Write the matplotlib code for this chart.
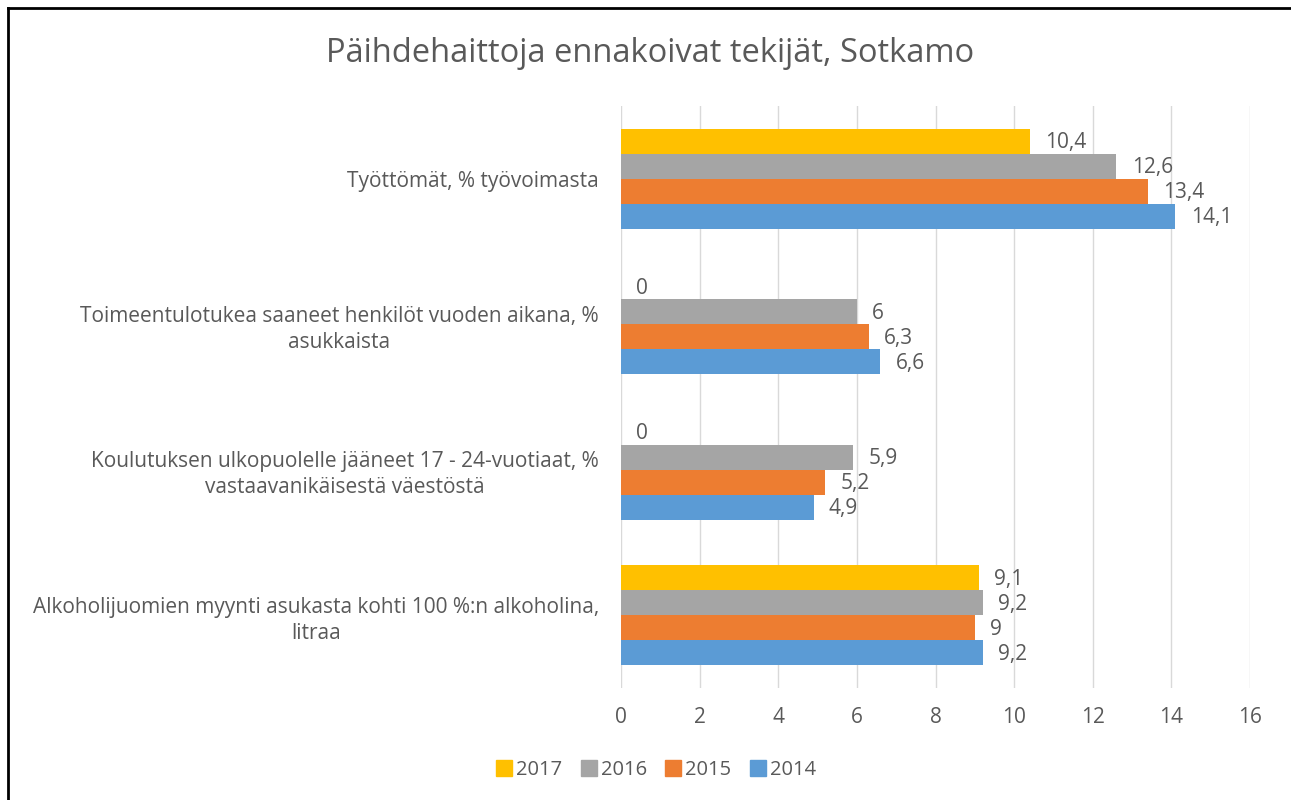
import matplotlib
matplotlib.use("Agg")
import matplotlib.pyplot as plt
from matplotlib.lines import Line2D
import numpy as np

plt.rcParams['font.family'] = ['Open Sans', 'DejaVu Sans']

categories = [
    "Työttömät, % työvoimasta",
    "Toimeentulotukea saaneet henkilöt vuoden aikana, %\nasukkaista",
    "Koulutuksen ulkopuolelle jääneet 17 - 24-vuotiaat, %\nvastaavanikäisestä väestöstä",
    "Alkoholijuomien myynti asukasta kohti 100 %:n alkoholina,\nlitraa",
]
years = ["2017", "2016", "2015", "2014"]
v2017 = [10.4, 0, 0, 9.1]
v2016 = [12.6, 6, 5.9, 9.2]
v2015 = [13.4, 6.3, 5.2, 9]
v2014 = [14.1, 6.6, 4.9, 9.2]
series = [v2017, v2016, v2015, v2014]
colors = ["#FFC000", "#A5A5A5", "#ED7D31", "#5B9BD5"]
xticks = [0, 2, 4, 6, 8, 10, 12, 14, 16]

def fmt(v):
    s = f"{v:g}"
    return s.replace(".", ",")

W, H = 1291, 800
fig = plt.figure(figsize=(W / 100, H / 100), dpi=100)
ax = fig.add_axes([621 / W, 1 - 688 / H, (1250 - 621) / W, (688 - 106) / H])

text_color = "#595959"
bh = 0.1715
y = np.arange(len(categories))
for i, (vals, col) in enumerate(zip(series, colors)):
    pos = y + (i - 1.5) * bh
    ax.barh(pos, vals, height=bh, color=col, zorder=3)
    for p, v in zip(pos, vals):
        ax.annotate(fmt(v), (v, p), xytext=(11, -1), textcoords="offset points",
                    ha="left", va="center", fontsize=15, color=text_color,
                    annotation_clip=False)

ax.set_xlim(0, 16)
ax.set_ylim(3.5, -0.5)
ax.set_xticks(xticks)
ax.set_xticklabels([str(t) for t in xticks])
ax.set_yticks(y)
ax.set_yticklabels(categories, multialignment="center", linespacing=1.3)
ax.tick_params(axis="both", length=0, labelsize=15, colors=text_color)
ax.tick_params(axis="x", pad=14)
ax.tick_params(axis="y", pad=16)
ax.grid(axis="x", color="#D9D9D9", linewidth=1, zorder=0)
for s in ax.spines.values():
    s.set_visible(False)

fig.text(650 / W, 1 - 53 / H, "Päihdehaittoja ennakoivat tekijät, Sotkamo",
         ha="center", va="center", fontsize=23.5, color=text_color)

handles = [Line2D([], [], marker="s", linestyle="", markersize=11,
                  markerfacecolor=c, markeredgecolor=c) for c in colors]
fig.legend(handles, years, loc="center", bbox_to_anchor=(655 / W, 1 - 770 / H),
           ncol=4, frameon=False, fontsize=14.5, labelcolor=text_color,
           handletextpad=0.1, columnspacing=0.8, handlelength=1.0)

fig.add_artist(Line2D([7.5 / W, 7.5 / W], [0, 1 - 7.5 / H], color="#000000",
                      linewidth=2, transform=fig.transFigure))
fig.add_artist(Line2D([7.5 / W, 1], [1 - 7.5 / H, 1 - 7.5 / H], color="#000000",
                      linewidth=2, transform=fig.transFigure))

fig.savefig("out.png", dpi=100)
